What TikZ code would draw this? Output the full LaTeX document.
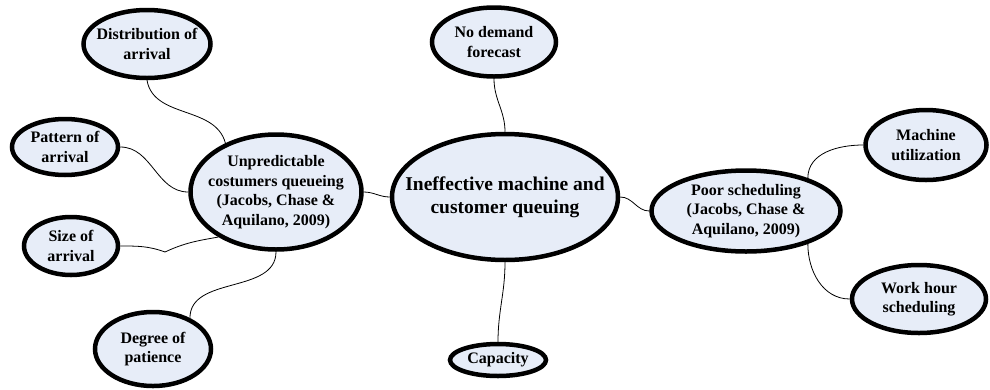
\documentclass[tikz,border=0pt]{standalone}
\usepackage{fontspec}
\setmainfont{Liberation Serif}
\usetikzlibrary{shapes.geometric}
\definecolor{bubblefill}{RGB}{231,237,248}
\tikzset{
  bubble/.style={ellipse, draw=black, line width=4.5pt, fill=bubblefill, inner sep=0pt},
  btext/.style={align=center, inner sep=0pt, font=\bfseries\fontsize{16}{19.5}\selectfont},
  bigtext/.style={btext, font=\bfseries\fontsize{19.5}{23}\selectfont},
  link/.style={draw=black, line width=0.8pt}
}
\begin{document}
\begin{tikzpicture}[x=1pt,y=-1pt]
\useasboundingbox (0,0) rectangle (990,389);
% nodes
\node[bubble, minimum width=226pt, minimum height=126pt,
  label={[bigtext]center:Ineffective machine and\\customer queuing}] (central) at (505,197) {};
\node[bubble, minimum width=171pt, minimum height=115pt,
  label={[btext]center:Unpredictable\\costumers queueing\\(Jacobs, Chase \&\\Aquilano, 2009)}] (unpred) at (276,192) {};
\node[bubble, minimum width=127pt, minimum height=68pt,
  label={[btext]center:Distribution of\\arrival}] (dist) at (147,44) {};
\node[bubble, minimum width=106pt, minimum height=56pt,
  label={[btext]center:Pattern of\\arrival}] (pattern) at (65,147) {};
\node[bubble, minimum width=94pt, minimum height=58pt,
  label={[btext]center:Size of\\arrival}] (size) at (71,246) {};
\node[bubble, minimum width=116pt, minimum height=74pt,
  label={[btext]center:Degree of\\patience}] (degree) at (153,349) {};
\node[bubble, minimum width=124pt, minimum height=69pt,
  label={[btext]center:No demand\\forecast}] (nodemand) at (494,42) {};
\node[bubble, minimum width=96pt, minimum height=32pt,
  label={[btext]center:Capacity}] (capacity) at (498,360) {};
\node[bubble, minimum width=189pt, minimum height=81pt,
  label={[btext]center:Poor scheduling\\(Jacobs, Chase \&\\Aquilano, 2009)}] (poor) at (746,211) {};
\node[bubble, minimum width=121pt, minimum height=70pt,
  label={[btext]center:Machine\\utilization}] (machine) at (926,145) {};
\node[bubble, minimum width=134pt, minimum height=68pt,
  label={[btext]center:Work hour\\scheduling}] (work) at (919,299) {};
\coordinate (cusp) at (165,252);
% connectors
\draw[link] (dist.south) to[out=-80, in=105] (unpred.136);
\draw[link] (pattern.east) to[out=0, in=180] (unpred.west);
\draw[link] (size.east) to[out=0, in=160] (cusp) to[out=25, in=190] (unpred.-142);
\draw[link] (degree.40) to[out=90, in=-90] (unpred.south);
\draw[link] (unpred.east) to[out=0, in=180] (central.west);
\draw[link] (nodemand.south) to[out=-90, in=90] (central.north);
\draw[link] (central.south) to[out=-90, in=90] (capacity.north);
\draw[link] (central.east) to[out=0, in=180] (poor.west);
\draw[link] (poor.28) to[out=90, in=180] (machine.west);
\draw[link] (poor.-28) to[out=-90, in=180] (work.west);
\end{tikzpicture}
\end{document}
